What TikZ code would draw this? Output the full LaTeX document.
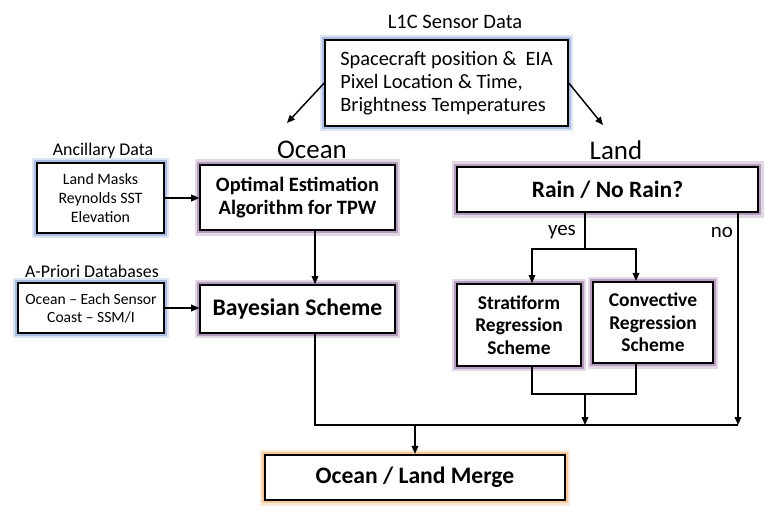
\documentclass[tikz,border=0pt]{standalone}
\usepackage{fontspec}
\setmainfont{Carlito}
\usepackage{xcolor}
\usetikzlibrary{arrows.meta,positioning,calc}
\definecolor{glowbleu}{HTML}{8EA9DB}
\definecolor{glowmauve}{HTML}{9C7BA8}
\definecolor{gloworange}{HTML}{F2B77A}

\begin{document}
\begin{tikzpicture}[x=0.75pt,y=-0.75pt,
  every node/.style={font=\fontsize{13.4}{16}\selectfont},
  boite/.style={draw=black,line width=1.4pt,fill=white,inner sep=3pt,align=center,
    preaction={draw=#1!30,line width=8pt},preaction={draw=#1!75,line width=4.5pt}},
  trait/.style={line width=1.1pt},
  fleche/.style={trait,-{Triangle[length=6pt,width=5pt]}}]
  \useasboundingbox (0,0) rectangle (779,517);
  % donnees capteur en haut
  \node (titre) at (455,22) {\fontsize{15.4}{18}\selectfont L1C Sensor Data};
  \node[boite=glowbleu,minimum width=182pt,minimum height=64.5pt,align=left,
    font=\fontsize{15.3}{17.3}\selectfont] (capteur) at (446.5,83)
    {Spacecraft position \&\ \ EIA\\Pixel Location \& Time,\\Brightness Temperatures};
  % titres des branches
  \node (ocean) at (312,150) {\fontsize{20.2}{24}\selectfont Ocean};
  \node (land) at (616,150) {\fontsize{20.2}{24}\selectfont Land};
  \coordinate (po) at (287,123);
  \coordinate (pl) at (603,125);
  \draw[fleche] (capteur.west) -- (po);
  \draw[fleche] (capteur.east) -- (pl);
  % donnees auxiliaires
  \node (tanc) at (103,151) {Ancillary Data};
  \node[boite=glowbleu,minimum width=95pt,minimum height=52.5pt,
    font=\fontsize{11.9}{14}\selectfont] (anc) at (100.5,198)
    {Land Masks\\Reynolds SST\\Elevation};
  \node (tapr) at (92,271) {A-Priori Databases};
  \node[boite=glowbleu,minimum width=109.5pt,minimum height=37.5pt,
    font=\fontsize{11.7}{13.5}\selectfont] (apr) at (91,308)
    {Ocean -- Each Sensor\\Coast -- SSM/I};
  % branche ocean
  \node[boite=glowmauve,minimum width=146pt,minimum height=49pt,
    font=\fontsize{15.3}{17.3}\selectfont\bfseries] (opt) at (297.5,197.5)
    {Optimal Estimation\\Algorithm for TPW};
  \node[boite=glowmauve,minimum width=146pt,minimum height=36pt,
    font=\fontsize{17.8}{20}\selectfont\bfseries] (bay) at (297.5,309) {Bayesian Scheme};
  \draw[fleche] (anc.east) -- (anc.east -| opt.west);
  \draw[fleche] (apr.east) -- (apr.east -| bay.west);
  \coordinate (m1) at (315,425);
  \draw[fleche] (opt.south -| m1) -- (bay.north -| m1);
  % branche terre
  \node[boite=glowmauve,minimum width=226pt,minimum height=34pt,
    font=\fontsize{17.6}{20}\selectfont\bfseries] (rain) at (607.5,189.5) {Rain / No Rain?};
  \node[boite=glowmauve,minimum width=93pt,minimum height=61.5pt,
    font=\fontsize{14.6}{17}\selectfont\bfseries] (strat) at (519,325)
    {Stratiform\\Regression\\Scheme};
  \node[boite=glowmauve,minimum width=90pt,minimum height=61pt,
    font=\fontsize{14.6}{17}\selectfont\bfseries] (conv) at (653,322.5)
    {Convective\\Regression\\Scheme};
  \coordinate (oui) at (585,249);
  \coordinate (ya) at (532,249);
  \coordinate (yb) at (636,249);
  \draw[trait] (rain.south -| oui) -- (oui);
  \draw[fleche] (oui) -- (ya) -- (ya |- strat.north);
  \draw[fleche] (oui) -- (yb) -- (yb |- conv.north);
  \node (yes) at (562,232) {\fontsize{15.7}{18}\selectfont yes};
  \node (no) at (722,232) {\fontsize{15.7}{18}\selectfont no};
  \coordinate (za) at (532,394);
  \coordinate (zb) at (636,394);
  \coordinate (zm) at (585,394);
  \draw[trait] (za |- strat.south) -- (za) -- (zb) -- (zb |- conv.south);
  % fusion
  \coordinate (m2) at (738,425);
  \coordinate (mm) at (415,425);
  \node[boite=gloworange,minimum width=225pt,minimum height=34pt,
    font=\fontsize{17.7}{20}\selectfont\bfseries] (merge) at (415,477.5) {Ocean / Land Merge};
  \draw[trait] (bay.south -| m1) -- (m1) -- (m2);
  \draw[fleche] (rain.south -| m2) -- (m2);
  \draw[fleche] (zm) -- (zm |- m1);
  \draw[fleche] (mm) -- (merge.north);
\end{tikzpicture}
\end{document}
